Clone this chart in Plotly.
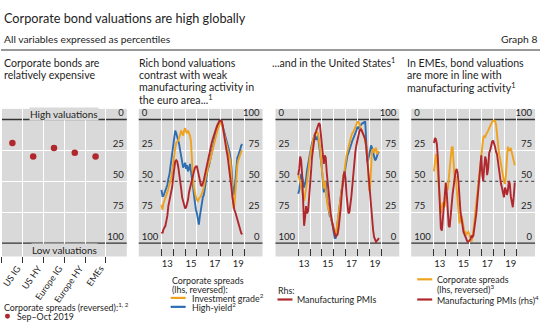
import pandas as pd
import plotly.graph_objects as go

W, H = 540, 333
FONT = "Lato"
TXT = "#1e1e1e"
GRAY = "#d9d9d9"
DARK = "#333333"
ORANGE = "#eea21f"
BLUE = "#2f6db3"
RED = "#b0282d"

# ---- Panel 1: current valuation percentiles -------------------------------
segments = ["US IG", "US HY", "Europe IG", "Europe HY", "EMEs"]
spreads_sep_oct_2019 = [19, 30, 23, 27, 30]

# ---- Monthly percentiles, Jan 2013 onwards -------------------------------
start_month = "2013-01-01"

ea_ig = [69, 73, 68, 66, 64, 62, 59, 56, 53, 51, 47, 41,
         33, 27, 23, 19, 18, 17, 15, 12, 9, 11, 13, 9,
         7, 10, 11, 9, 11, 13, 18, 38, 48, 55, 60, 63,
         65, 66, 64, 63, 62, 60, 58, 55, 50, 46, 43, 39,
         36, 34, 31, 28, 24, 20, 17, 13, 11, 8, 6, 3,
         2, 3, 6, 9, 13, 18, 21, 24, 26, 30, 34, 45,
         62, 72, 70, 58, 44, 37, 33, 30, 28, 26, 25]
ea_hy = [57, 62, 62, 60, 58, 56, 53, 48, 45, 39, 32, 24,
         18, 13, 9, 11, 14, 16, 20, 25, 30, 36, 39, 37,
         35, 40, 37, 42, 40, 36, 41, 47, 54, 61, 68, 73,
         76, 80, 85, 78, 71, 68, 63, 61, 56, 50, 45, 40,
         38, 34, 30, 27, 24, 20, 16, 12, 10, 7, 4, 1,
         1, 2, 5, 8, 11, 15, 18, 20, 22, 26, 31, 38,
         52, 61, 59, 50, 38, 31, 29, 27, 24, 21, 20]
ea_pmi = [9, 8, 11, 13, 14, 18, 22, 30, 34, 37, 41, 46,
          54, 61, 66, 67, 66, 62, 57, 50, 44, 37, 33, 29,
          28, 29, 32, 35, 41, 45, 49, 51, 55, 58, 61, 62,
          62, 58, 53, 50, 47, 46, 48, 51, 55, 59, 62, 67,
          70, 74, 77, 81, 84, 87, 90, 92, 94, 96, 98, 99,
          99, 99, 96, 90, 84, 79, 75, 71, 65, 58, 51, 45,
          37, 31, 27, 25, 22, 20, 17, 14, 11, 8, 7]

us_ig = [45, 47, 50, 54, 60, 63, 66, 62, 56, 50, 42, 34,
         30, 25, 21, 18, 14, 12, 11, 10, 11, 16, 22, 31,
         39, 47, 56, 50, 55, 64, 70, 73, 75, 78, 80, 83,
         87, 90, 93, 89, 84, 77, 70, 64, 56, 50, 45, 41,
         33, 29, 26, 22, 18, 16, 13, 11, 10, 8, 6, 4,
         2, 2, 3, 6, 8, 10, 12, 14, 18, 21, 25, 40,
         58, 53, 34, 25, 24, 27, 24, 23, 28, 26, 26]
us_hy = [60, 57, 50, 44, 46, 51, 55, 52, 48, 41, 36, 31,
         27, 22, 19, 17, 15, 12, 16, 16, 13, 19, 24, 29,
         39, 51, 59, 55, 50, 63, 69, 75, 78, 79, 82, 86,
         91, 96, 96, 89, 82, 75, 69, 62, 57, 53, 48, 43,
         37, 33, 29, 27, 24, 22, 19, 17, 15, 12, 11, 9,
         6, 7, 6, 5, 4, 3, 3, 2, 2, 18, 34, 33,
         29, 24, 21, 23, 27, 31, 33, 32, 29, 27, 26]
us_pmi = [55, 60, 70, 67, 56, 35, 14, 21, 30, 24, 26, 36,
          44, 58, 69, 76, 84, 88, 90, 93, 95, 97, 96, 88,
          78, 67, 64, 71, 69, 57, 48, 38, 30, 24, 19, 14,
          11, 8, 5, 6, 7, 12, 18, 27, 38, 47, 55, 58,
          52, 39, 29, 24, 25, 30, 38, 47, 57, 67, 74, 79,
          84, 88, 90, 92, 92, 90, 88, 87, 84, 78, 68, 56,
          47, 36, 26, 18, 11, 5, 2, 1, 2, 3, 4]

eme_spreads = [42, 34, 28, 33, 45, 58, 68, 76, 71, 67, 71, 70,
               60, 56, 57, 50, 40, 31, 23, 22, 33, 49, 46, 56,
               69, 80, 84, 80, 78, 82, 88, 91, 91, 93, 92, 91,
               93, 96, 99, 96, 91, 83, 75, 67, 61, 54, 45, 38,
               29, 20, 15, 13, 14, 12, 11, 9, 7, 5, 3, 2,
               1, 1, 1, 4, 13, 21, 27, 31, 37, 42, 46, 50,
               52, 45, 33, 22, 25, 25, 23, 27, 30, 33, 37]
eme_pmi = [81, 85, 84, 80, 69, 47, 26, 12, 10, 20, 32, 43,
           49, 40, 23, 14, 13, 20, 31, 40, 47, 52, 58, 60,
           57, 48, 33, 25, 20, 13, 9, 7, 5, 2, 1, 1,
           2, 3, 6, 5, 6, 11, 17, 24, 34, 43, 53, 63,
           71, 55, 50, 61, 70, 67, 55, 60, 73, 75, 79, 82,
           83, 81, 78, 74, 72, 66, 59, 53, 48, 45, 41, 37,
           45, 43, 39, 42, 50, 48, 38, 32, 29, 38, 49]

pct_ticks = [0, 25, 50, 75, 100]
year_marks = ["2013-01-01", "2014-01-01", "2015-01-01", "2016-01-01",
              "2017-01-01", "2018-01-01", "2019-01-01", "2020-01-01"]
year_labels = ["13", "15", "17", "19"]
year_label_pos = ["2013-07-01", "2015-07-01", "2017-07-01", "2019-07-01"]


def months(series):
    return pd.date_range(start_month, periods=len(series), freq="MS")


def px_x(v):
    return v / W


def px_y(v):
    return 1 - v / H


# panel geometry in pixels
PANEL_X = [(1, 126), (138, 262), (275, 399), (411, 535)]
Y_DOM = [px_y(256), px_y(107.5)]
LHS_RANGE = [110.8, -8.6]
RHS_RANGE = [-10.8, 108.6]
DATE_RANGE = ["2011-01-30", "2021-07-18"]
LINE_W = 1.9

fig = go.Figure()

# panel 1 dots
fig.add_trace(go.Scatter(
    x=list(range(len(segments))), y=spreads_sep_oct_2019, mode="markers",
    marker=dict(color=RED, size=6.5), xaxis="x", yaxis="y", showlegend=False))

# line panels: (x axis, lhs axis, rhs axis, spread series, pmi series)
line_panels = [
    ("x2", "y2", "y3", [(ea_hy, BLUE), (ea_ig, ORANGE)], ea_pmi),
    ("x3", "y4", "y5", [(us_hy, BLUE), (us_ig, ORANGE)], us_pmi),
    ("x4", "y6", "y7", [(eme_spreads, ORANGE)], eme_pmi),
]
for xa, ya_l, ya_r, spread_list, pmi in line_panels:
    for vals, col in spread_list:
        fig.add_trace(go.Scatter(x=months(vals), y=vals, mode="lines",
                                 line=dict(color=col, width=LINE_W),
                                 xaxis=xa, yaxis=ya_l, showlegend=False))
    fig.add_trace(go.Scatter(x=months(pmi), y=pmi, mode="lines",
                             line=dict(color=RED, width=LINE_W),
                             xaxis=xa, yaxis=ya_r, showlegend=False))

tick_font = dict(family=FONT, size=9.5, color=TXT)
layout = dict(
    width=W, height=H, autosize=False,
    margin=dict(l=0, r=0, t=0, b=0),
    paper_bgcolor="white", plot_bgcolor=GRAY,
    font=dict(family=FONT, color=TXT),
    showlegend=False,
)

# panel 1 axes
layout["xaxis"] = dict(
    domain=[px_x(PANEL_X[0][0]), px_x(PANEL_X[0][1])], anchor="y",
    range=[-0.5, 5.5], tickmode="array", tickvals=list(range(len(segments))),
    ticktext=segments, tickangle=-55, ticks="", showgrid=False, zeroline=False,
    showline=False, tickfont=dict(family=FONT, size=9, color=TXT),
    ticklabeloverflow="allow", ticklabelshift=5, ticklabelstandoff=4,
    minor=dict(tickmode="array", tickvals=[i - 0.5 for i in range(len(segments) + 1)],
               ticks="outside", ticklen=6, tickcolor=DARK, tickwidth=1,
               showgrid=True, gridcolor="white", gridwidth=1),
)
layout["yaxis"] = dict(
    domain=Y_DOM, anchor="x", side="right", range=LHS_RANGE,
    tickmode="array", tickvals=pct_ticks, ticks="", ticklabelposition="inside top",
    ticklabeloverflow="allow",
    showgrid=False, zeroline=False, showline=False, tickfont=tick_font,
    minor=dict(tickmode="array", tickvals=[25, 50, 75], showgrid=True,
               gridcolor="white", gridwidth=1, ticks=""),
)

for i, (xa, ya_l, ya_r, _, _) in enumerate(line_panels):
    x0, x1 = PANEL_X[i + 1]
    layout["xaxis" + xa[1:]] = dict(
        domain=[px_x(x0), px_x(x1)], anchor=ya_l, type="date", range=DATE_RANGE,
        tickmode="array", tickvals=year_label_pos, ticktext=year_labels, ticks="",
        showgrid=False, zeroline=False, showline=False, tickfont=tick_font,
        minor=dict(tickmode="array", tickvals=year_marks, ticks="inside", ticklen=7,
                   tickcolor=DARK, tickwidth=1, showgrid=True, gridcolor="white",
                   gridwidth=1),
    )
    layout["yaxis" + ya_l[1:]] = dict(
        domain=Y_DOM, anchor=xa, side="left", range=LHS_RANGE,
        tickmode="array", tickvals=pct_ticks, ticks="", ticklabelposition="inside top",
        ticklabeloverflow="allow",
        showgrid=False, zeroline=False, showline=False, tickfont=tick_font,
        minor=dict(tickmode="array", tickvals=[25, 75], showgrid=True,
                   gridcolor="white", gridwidth=1, ticks=""),
    )
    layout["yaxis" + ya_r[1:]] = dict(
        overlaying=ya_l, anchor=xa, side="right", range=RHS_RANGE,
        tickmode="array", tickvals=pct_ticks, ticks="", ticklabelposition="inside top",
        ticklabeloverflow="allow",
        showgrid=False, zeroline=False, showline=False, tickfont=tick_font,
    )

shapes = []
# dark 0 / 100 boundaries, dotted median line
for xa, ya in [("x", "y"), ("x2", "y2"), ("x3", "y4"), ("x4", "y6")]:
    for lvl in (0, 100):
        shapes.append(dict(type="line", xref=xa + " domain", yref=ya, x0=0, x1=1,
                           y0=lvl, y1=lvl, line=dict(color=DARK, width=1.3),
                           layer="below"))
    if xa != "x":
        shapes.append(dict(type="line", xref=xa + " domain", yref=ya, x0=0, x1=1,
                           y0=50, y1=50, line=dict(color=DARK, width=1, dash="dot"),
                           layer="below"))

# header rule
shapes.append(dict(type="line", xref="paper", yref="paper", x0=0, x1=1,
                   y0=px_y(48.3), y1=px_y(48.3), line=dict(color=DARK, width=1)))


def swatch(x0, x1, y, color):
    shapes.append(dict(type="line", xref="paper", yref="paper",
                       x0=px_x(x0), x1=px_x(x1), y0=px_y(y), y1=px_y(y),
                       line=dict(color=color, width=2.2)))


swatch(170, 185, 297.7, ORANGE)
swatch(170, 185, 306.7, BLUE)
swatch(277, 292, 299.3, RED)
swatch(417, 432, 279, ORANGE)
swatch(417, 432, 299.3, RED)
shapes.append(dict(type="circle", xref="paper", yref="paper",
                   x0=px_x(4), x1=px_x(9), y0=px_y(318.7), y1=px_y(313.7),
                   fillcolor=RED, line=dict(width=0)))

anns = []


def text(s, x, y, size, anchor="left"):
    anns.append(dict(text=s, x=px_x(x), y=px_y(y), xref="paper", yref="paper",
                     xanchor=anchor, yanchor="middle", showarrow=False, borderpad=0,
                     font=dict(family=FONT, size=size, color=TXT)))


text("Corporate bond valuations are high globally", 2, 16, 12.7)
text("All variables expressed as percentiles", 2, 37, 10.3)
text("Graph 8", 538, 37, 10.3, anchor="right")

title_rows = [61.2, 73.5, 85.8, 98.1]
panel_titles = [
    (2, ["Corporate bonds are", "relatively expensive"]),
    (137, ["Rich bond valuations", "contrast with weak", "manufacturing activity in",
           "the euro area...<sup>1</sup>"]),
    (270, ["...and in the United States<sup>1</sup>"]),
    (406, ["In EMEs, bond valuations", "are more in line with",
           "manufacturing activity<sup>1</sup>"]),
]
for x, rows in panel_titles:
    for r, s in zip(title_rows, rows):
        text(s, x, r, 10.6)

# band labels in panel 1
for s, yv in (("High valuations", -4.4), ("Low valuations", 105.6)):
    anns.append(dict(text=s, x=0.5, y=yv, xref="x domain", yref="y", xanchor="center",
                     yanchor="middle", showarrow=False, bgcolor=GRAY, borderpad=0,
                     font=dict(family=FONT, size=10, color=TXT)))

# legends
LEG = 8.9
text("Corporate spreads (reversed):<sup>1, 2</sup>", 2, 306.5, LEG)
text("Sep–Oct 2019", 15, 316.2, LEG)
text("Corporate spreads", 170, 280, LEG)
text("(lhs, reversed):", 170, 288.8, LEG)
text("Investment grade<sup>2</sup>", 190, 297.7, LEG)
text("High-yield<sup>2</sup>", 190, 306.7, LEG)
text("Rhs:", 277, 290, LEG)
text("Manufacturing PMIs", 296, 299.3, LEG)
text("Corporate spreads", 436, 279, LEG)
text("(lhs, reversed)<sup>3</sup>", 436, 288.3, LEG)
text("Manufacturing PMIs (rhs)<sup>4</sup>", 436, 299.3, LEG)

layout["shapes"] = shapes
layout["annotations"] = anns
fig.update_layout(**layout)
fig.write_html("out.html")
